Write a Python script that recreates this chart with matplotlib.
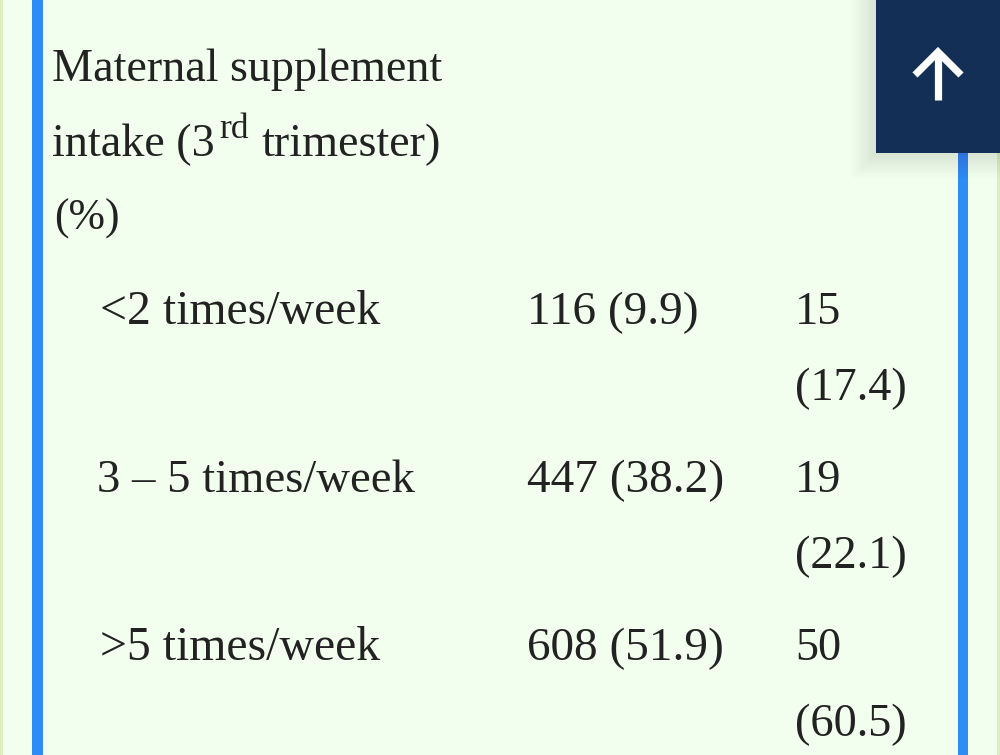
import matplotlib
matplotlib.use("Agg")
import matplotlib.pyplot as plt
from matplotlib.patches import Rectangle

W, H = 1000, 755

# table content
heading_first = "Maternal supplement"
heading_second = ["intake (3", "rd", "trimester)"]
heading_third = "(%)"
row_labels = ["<2 times/week", "3 – 5 times/week", ">5 times/week"]
col_a = ["116 (9.9)", "447 (38.2)", "608 (51.9)"]
col_b_count = ["15", "19", "50"]
col_b_pct = ["(17.4)", "(22.1)", "(60.5)"]

plt.rcParams["font.family"] = ["Liberation Serif", "DejaVu Serif"]

fig = plt.figure(figsize=(W / 100, H / 100), dpi=100, facecolor="#f3ffee")
ax = fig.add_axes([0, 0, 1, 1])
ax.set_xlim(0, W)
ax.set_ylim(H, 0)
ax.axis("off")

# page edge and blue side bars
ax.add_patch(Rectangle((0, 0), 3, H, color="#dcefc0", lw=0))
ax.add_patch(Rectangle((32, 0), 11, H, color="#2e8cf5", lw=0))
ax.add_patch(Rectangle((958, 0), 10, H, color="#2e8cf5", lw=0))
ax.add_patch(Rectangle((997, 0), 3, H, color="#dcefc0", lw=0))

# soft shadow round the button
for grow in range(26, 0, -1):
    ax.add_patch(Rectangle((876 - grow, 0), 124 + grow, 153 + grow, color="#33402c", alpha=0.004, lw=0))

# back-to-top button
ax.add_patch(Rectangle((876, 0), 124, 153, color="#142f55", lw=0))
ax.plot([938, 938], [54, 100], color="white", lw=5.2, solid_capstyle="butt")
ax.plot([915, 938, 961], [75, 52, 75], color="white", lw=5.2, solid_joinstyle="miter", solid_capstyle="butt")

ink = "#222222"


def put(x, y, s, size):
    ax.text(x, y, s, fontsize=size, color=ink, va="baseline", ha="left")


# heading, three lines, the superscript placed by hand
put(52, 81, heading_first, 33.2)
put(52, 156, heading_second[0], 33.2)
put(219, 138, heading_second[1], 25.5)
put(261, 156, heading_second[2], 33.2)
put(54, 230, heading_third, 31.5)

rows_y = [324, 492, 660]
row_x = [100, 97, 100]
row_sizes = [34.4, 33.6, 34.4]
for i, y in enumerate(rows_y):
    put(row_x[i], y, row_labels[i], row_sizes[i])
    put(527, y, col_a[i], 34)
    put(795, y, col_b_count[i], 33.4)
    put(795, y + 76, col_b_pct[i], 33.4)

fig.savefig("out.png", dpi=100, facecolor=fig.get_facecolor())
